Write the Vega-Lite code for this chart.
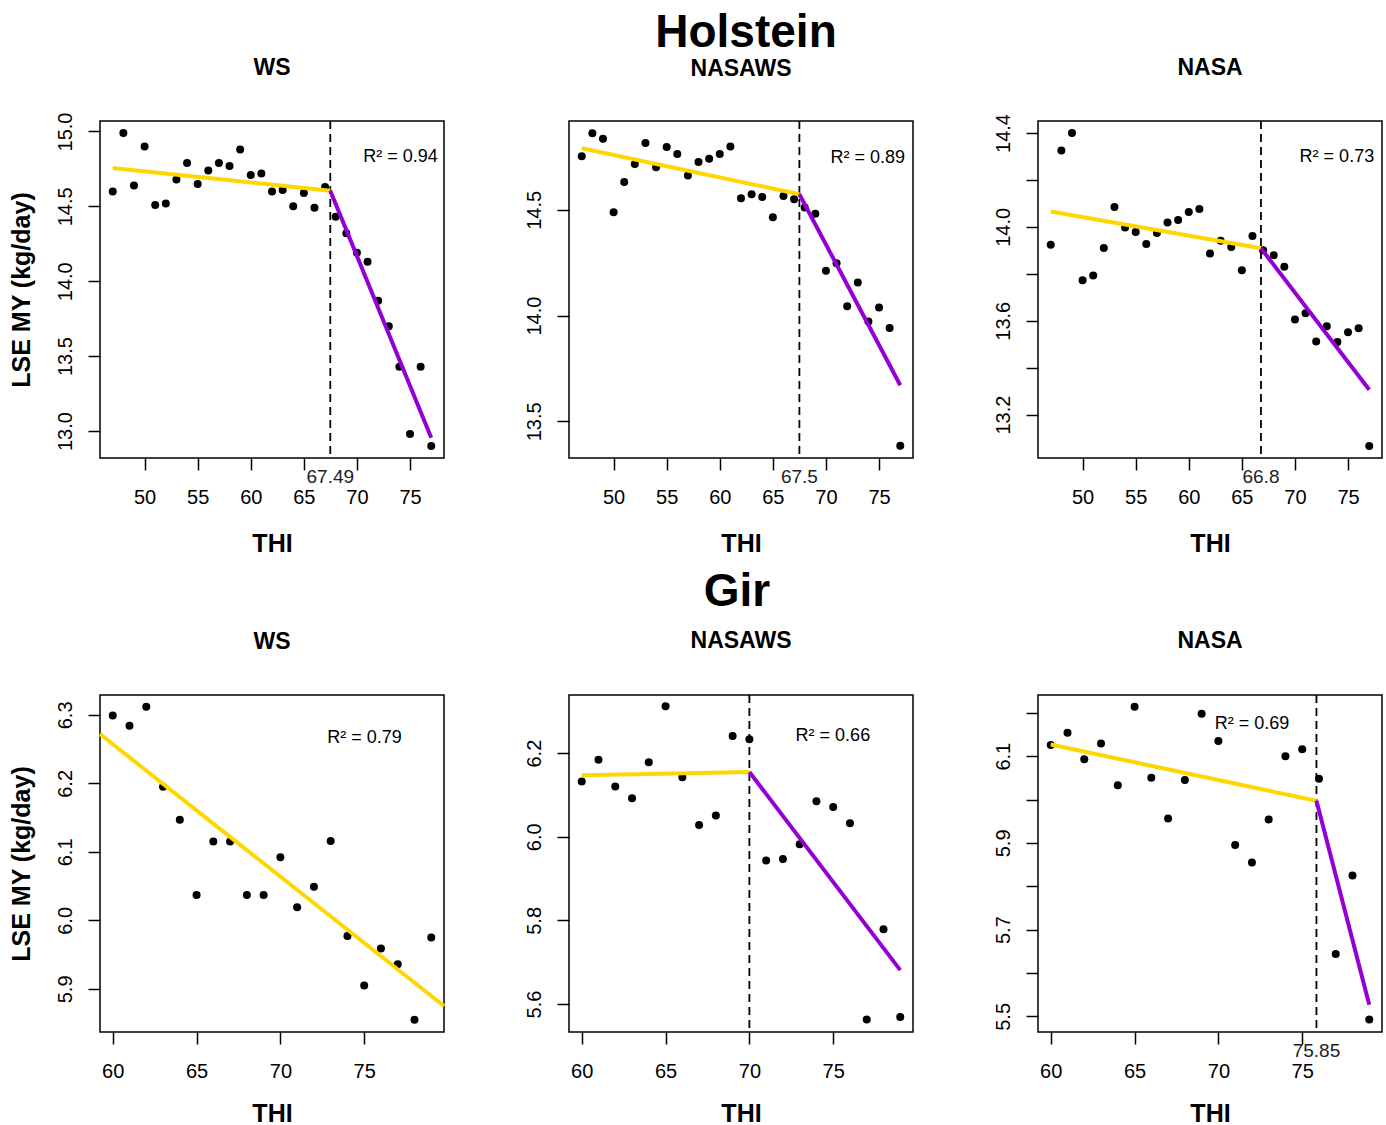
{
  "$schema": "https://vega.github.io/schema/vega-lite/v6.json",
  "background": "white",
  "padding": {"left": 8, "top": 9, "right": 5, "bottom": 5},
  "datasets": {
    "pts": [
      {"panel": "H-WS", "THI": 47, "MY": 14.60}, {"panel": "H-WS", "THI": 48, "MY": 14.99}, {"panel": "H-WS", "THI": 49, "MY": 14.64}, {"panel": "H-WS", "THI": 50, "MY": 14.90}, {"panel": "H-WS", "THI": 51, "MY": 14.51}, {"panel": "H-WS", "THI": 52, "MY": 14.52}, {"panel": "H-WS", "THI": 53, "MY": 14.68}, {"panel": "H-WS", "THI": 54, "MY": 14.79}, {"panel": "H-WS", "THI": 55, "MY": 14.65}, {"panel": "H-WS", "THI": 56, "MY": 14.74}, {"panel": "H-WS", "THI": 57, "MY": 14.79}, {"panel": "H-WS", "THI": 58, "MY": 14.77}, {"panel": "H-WS", "THI": 59, "MY": 14.88}, {"panel": "H-WS", "THI": 60, "MY": 14.71}, {"panel": "H-WS", "THI": 61, "MY": 14.72}, {"panel": "H-WS", "THI": 62, "MY": 14.60}, {"panel": "H-WS", "THI": 63, "MY": 14.61}, {"panel": "H-WS", "THI": 64, "MY": 14.50}, {"panel": "H-WS", "THI": 65, "MY": 14.59}, {"panel": "H-WS", "THI": 66, "MY": 14.49}, {"panel": "H-WS", "THI": 67, "MY": 14.63}, {"panel": "H-WS", "THI": 68, "MY": 14.43}, {"panel": "H-WS", "THI": 69, "MY": 14.32}, {"panel": "H-WS", "THI": 70, "MY": 14.19}, {"panel": "H-WS", "THI": 71, "MY": 14.13}, {"panel": "H-WS", "THI": 72, "MY": 13.87}, {"panel": "H-WS", "THI": 73, "MY": 13.70}, {"panel": "H-WS", "THI": 74, "MY": 13.43}, {"panel": "H-WS", "THI": 75, "MY": 12.98}, {"panel": "H-WS", "THI": 76, "MY": 13.43}, {"panel": "H-WS", "THI": 77, "MY": 12.90},
      {"panel": "H-NASAWS", "THI": 47, "MY": 14.753}, {"panel": "H-NASAWS", "THI": 48, "MY": 14.862}, {"panel": "H-NASAWS", "THI": 49, "MY": 14.836}, {"panel": "H-NASAWS", "THI": 50, "MY": 14.489}, {"panel": "H-NASAWS", "THI": 51, "MY": 14.632}, {"panel": "H-NASAWS", "THI": 52, "MY": 14.717}, {"panel": "H-NASAWS", "THI": 53, "MY": 14.816}, {"panel": "H-NASAWS", "THI": 54, "MY": 14.701}, {"panel": "H-NASAWS", "THI": 55, "MY": 14.797}, {"panel": "H-NASAWS", "THI": 56, "MY": 14.764}, {"panel": "H-NASAWS", "THI": 57, "MY": 14.662}, {"panel": "H-NASAWS", "THI": 58, "MY": 14.726}, {"panel": "H-NASAWS", "THI": 59, "MY": 14.742}, {"panel": "H-NASAWS", "THI": 60, "MY": 14.764}, {"panel": "H-NASAWS", "THI": 61, "MY": 14.800}, {"panel": "H-NASAWS", "THI": 62, "MY": 14.555}, {"panel": "H-NASAWS", "THI": 63, "MY": 14.574}, {"panel": "H-NASAWS", "THI": 64, "MY": 14.561}, {"panel": "H-NASAWS", "THI": 65, "MY": 14.465}, {"panel": "H-NASAWS", "THI": 66, "MY": 14.566}, {"panel": "H-NASAWS", "THI": 67, "MY": 14.550}, {"panel": "H-NASAWS", "THI": 68, "MY": 14.511}, {"panel": "H-NASAWS", "THI": 69, "MY": 14.481}, {"panel": "H-NASAWS", "THI": 70, "MY": 14.212}, {"panel": "H-NASAWS", "THI": 71, "MY": 14.248}, {"panel": "H-NASAWS", "THI": 72, "MY": 14.044}, {"panel": "H-NASAWS", "THI": 73, "MY": 14.157}, {"panel": "H-NASAWS", "THI": 74, "MY": 13.972}, {"panel": "H-NASAWS", "THI": 75, "MY": 14.039}, {"panel": "H-NASAWS", "THI": 76, "MY": 13.942}, {"panel": "H-NASAWS", "THI": 77, "MY": 13.385},
      {"panel": "H-NASA", "THI": 47, "MY": 13.924}, {"panel": "H-NASA", "THI": 48, "MY": 14.325}, {"panel": "H-NASA", "THI": 49, "MY": 14.400}, {"panel": "H-NASA", "THI": 50, "MY": 13.772}, {"panel": "H-NASA", "THI": 51, "MY": 13.793}, {"panel": "H-NASA", "THI": 52, "MY": 13.910}, {"panel": "H-NASA", "THI": 53, "MY": 14.085}, {"panel": "H-NASA", "THI": 54, "MY": 13.997}, {"panel": "H-NASA", "THI": 55, "MY": 13.978}, {"panel": "H-NASA", "THI": 56, "MY": 13.927}, {"panel": "H-NASA", "THI": 57, "MY": 13.974}, {"panel": "H-NASA", "THI": 58, "MY": 14.018}, {"panel": "H-NASA", "THI": 59, "MY": 14.029}, {"panel": "H-NASA", "THI": 60, "MY": 14.063}, {"panel": "H-NASA", "THI": 61, "MY": 14.076}, {"panel": "H-NASA", "THI": 62, "MY": 13.886}, {"panel": "H-NASA", "THI": 63, "MY": 13.941}, {"panel": "H-NASA", "THI": 64, "MY": 13.914}, {"panel": "H-NASA", "THI": 65, "MY": 13.815}, {"panel": "H-NASA", "THI": 66, "MY": 13.961}, {"panel": "H-NASA", "THI": 67, "MY": 13.900}, {"panel": "H-NASA", "THI": 68, "MY": 13.879}, {"panel": "H-NASA", "THI": 69, "MY": 13.830}, {"panel": "H-NASA", "THI": 70, "MY": 13.605}, {"panel": "H-NASA", "THI": 71, "MY": 13.632}, {"panel": "H-NASA", "THI": 72, "MY": 13.511}, {"panel": "H-NASA", "THI": 73, "MY": 13.576}, {"panel": "H-NASA", "THI": 74, "MY": 13.509}, {"panel": "H-NASA", "THI": 75, "MY": 13.551}, {"panel": "H-NASA", "THI": 76, "MY": 13.568}, {"panel": "H-NASA", "THI": 77, "MY": 13.066},
      {"panel": "G-WS", "THI": 60, "MY": 6.299}, {"panel": "G-WS", "THI": 61, "MY": 6.284}, {"panel": "G-WS", "THI": 62, "MY": 6.312}, {"panel": "G-WS", "THI": 63, "MY": 6.195}, {"panel": "G-WS", "THI": 64, "MY": 6.147}, {"panel": "G-WS", "THI": 65, "MY": 6.037}, {"panel": "G-WS", "THI": 66, "MY": 6.115}, {"panel": "G-WS", "THI": 67, "MY": 6.115}, {"panel": "G-WS", "THI": 68, "MY": 6.037}, {"panel": "G-WS", "THI": 69, "MY": 6.037}, {"panel": "G-WS", "THI": 70, "MY": 6.092}, {"panel": "G-WS", "THI": 71, "MY": 6.019}, {"panel": "G-WS", "THI": 72, "MY": 6.049}, {"panel": "G-WS", "THI": 73, "MY": 6.116}, {"panel": "G-WS", "THI": 74, "MY": 5.977}, {"panel": "G-WS", "THI": 75, "MY": 5.905}, {"panel": "G-WS", "THI": 76, "MY": 5.959}, {"panel": "G-WS", "THI": 77, "MY": 5.936}, {"panel": "G-WS", "THI": 78, "MY": 5.855}, {"panel": "G-WS", "THI": 79, "MY": 5.975},
      {"panel": "G-NASAWS", "THI": 60, "MY": 6.132}, {"panel": "G-NASAWS", "THI": 61, "MY": 6.184}, {"panel": "G-NASAWS", "THI": 62, "MY": 6.120}, {"panel": "G-NASAWS", "THI": 63, "MY": 6.092}, {"panel": "G-NASAWS", "THI": 64, "MY": 6.178}, {"panel": "G-NASAWS", "THI": 65, "MY": 6.312}, {"panel": "G-NASAWS", "THI": 66, "MY": 6.142}, {"panel": "G-NASAWS", "THI": 67, "MY": 6.028}, {"panel": "G-NASAWS", "THI": 68, "MY": 6.051}, {"panel": "G-NASAWS", "THI": 69, "MY": 6.241}, {"panel": "G-NASAWS", "THI": 70, "MY": 6.233}, {"panel": "G-NASAWS", "THI": 71, "MY": 5.943}, {"panel": "G-NASAWS", "THI": 72, "MY": 5.947}, {"panel": "G-NASAWS", "THI": 73, "MY": 5.982}, {"panel": "G-NASAWS", "THI": 74, "MY": 6.085}, {"panel": "G-NASAWS", "THI": 75, "MY": 6.071}, {"panel": "G-NASAWS", "THI": 76, "MY": 6.032}, {"panel": "G-NASAWS", "THI": 77, "MY": 5.563}, {"panel": "G-NASAWS", "THI": 78, "MY": 5.779}, {"panel": "G-NASAWS", "THI": 79, "MY": 5.569},
      {"panel": "G-NASA", "THI": 60, "MY": 6.126}, {"panel": "G-NASA", "THI": 61, "MY": 6.154}, {"panel": "G-NASA", "THI": 62, "MY": 6.093}, {"panel": "G-NASA", "THI": 63, "MY": 6.129}, {"panel": "G-NASA", "THI": 64, "MY": 6.033}, {"panel": "G-NASA", "THI": 65, "MY": 6.214}, {"panel": "G-NASA", "THI": 66, "MY": 6.050}, {"panel": "G-NASA", "THI": 67, "MY": 5.956}, {"panel": "G-NASA", "THI": 68, "MY": 6.045}, {"panel": "G-NASA", "THI": 69, "MY": 6.198}, {"panel": "G-NASA", "THI": 70, "MY": 6.135}, {"panel": "G-NASA", "THI": 71, "MY": 5.895}, {"panel": "G-NASA", "THI": 72, "MY": 5.855}, {"panel": "G-NASA", "THI": 73, "MY": 5.954}, {"panel": "G-NASA", "THI": 74, "MY": 6.100}, {"panel": "G-NASA", "THI": 75, "MY": 6.116}, {"panel": "G-NASA", "THI": 76, "MY": 6.048}, {"panel": "G-NASA", "THI": 77, "MY": 5.644}, {"panel": "G-NASA", "THI": 78, "MY": 5.825}, {"panel": "G-NASA", "THI": 79, "MY": 5.493}
    ],
    "fit": [
      {"panel": "H-WS", "segment": "below", "THI": 47, "MY": 14.756}, {"panel": "H-WS", "segment": "below", "THI": 67.49, "MY": 14.604}, {"panel": "H-WS", "segment": "above", "THI": 67.49, "MY": 14.604}, {"panel": "H-WS", "segment": "above", "THI": 77, "MY": 12.955},
      {"panel": "H-NASAWS", "segment": "below", "THI": 47, "MY": 14.791}, {"panel": "H-NASAWS", "segment": "below", "THI": 67.5, "MY": 14.574}, {"panel": "H-NASAWS", "segment": "above", "THI": 67.5, "MY": 14.574}, {"panel": "H-NASAWS", "segment": "above", "THI": 77, "MY": 13.671},
      {"panel": "H-NASA", "segment": "below", "THI": 47, "MY": 14.065}, {"panel": "H-NASA", "segment": "below", "THI": 66.8, "MY": 13.909}, {"panel": "H-NASA", "segment": "above", "THI": 66.8, "MY": 13.909}, {"panel": "H-NASA", "segment": "above", "THI": 77, "MY": 13.306},
      {"panel": "G-WS", "segment": "below", "THI": 59.24, "MY": 6.272}, {"panel": "G-WS", "segment": "below", "THI": 79.76, "MY": 5.875},
      {"panel": "G-NASAWS", "segment": "below", "THI": 60, "MY": 6.147}, {"panel": "G-NASAWS", "segment": "below", "THI": 70, "MY": 6.155}, {"panel": "G-NASAWS", "segment": "above", "THI": 70, "MY": 6.155}, {"panel": "G-NASAWS", "segment": "above", "THI": 79, "MY": 5.681},
      {"panel": "G-NASA", "segment": "below", "THI": 60, "MY": 6.127}, {"panel": "G-NASA", "segment": "below", "THI": 75.85, "MY": 5.997}, {"panel": "G-NASA", "segment": "above", "THI": 75.85, "MY": 5.997}, {"panel": "G-NASA", "segment": "above", "THI": 79, "MY": 5.527}
    ],
    "brk": [
      {"panel": "H-WS", "THI": 67.49, "label": "67.49"},
      {"panel": "H-NASAWS", "THI": 67.5, "label": "67.5"},
      {"panel": "H-NASA", "THI": 66.8, "label": "66.8"},
      {"panel": "G-NASAWS", "THI": 70, "label": ""},
      {"panel": "G-NASA", "THI": 75.85, "label": "75.85"}
    ],
    "r2": [
      {"panel": "H-WS", "THI": 74.1, "MY": 14.83, "label": "R² = 0.94"},
      {"panel": "H-NASAWS", "THI": 73.94, "MY": 14.747, "label": "R² = 0.89"},
      {"panel": "H-NASA", "THI": 73.95, "MY": 14.298, "label": "R² = 0.73"},
      {"panel": "G-WS", "THI": 75.02, "MY": 6.266, "label": "R² = 0.79"},
      {"panel": "G-NASAWS", "THI": 74.98, "MY": 6.242, "label": "R² = 0.66"},
      {"panel": "G-NASA", "THI": 72.0, "MY": 6.175, "label": "R² = 0.69"}
    ]
  },
  "spacing": 12,
  "vconcat": [
    {
      "title": {"text": "Holstein", "fontSize": 46, "offset": -1, "frame": "group", "dx": 646},
      "bounds": "flush",
      "spacing": 125,
      "hconcat": [
        {
          "width": 344, "height": 337,
          "title": {"text": "WS", "offset": 32},
          "encoding": {"x": {"field": "THI", "type": "quantitative", "scale": {"domain": [45.8, 78.2], "nice": false, "zero": false}, "axis": {"values": [50, 55, 60, 65, 70, 75], "title": "THI"}}},
          "layer": [
            {"data": {"name": "pts"}, "transform": [{"filter": "datum.panel === 'H-WS'"}], "mark": {"type": "circle", "size": 64, "color": "black", "opacity": 1},
             "encoding": {"y": {"field": "MY", "type": "quantitative", "scale": {"domain": [12.82, 15.07], "nice": false, "zero": false}, "axis": {"values": [13, 13.5, 14, 14.5, 15], "format": ".1f", "title": "LSE MY (kg/day)"}}}},
            {"data": {"name": "brk"}, "transform": [{"filter": "datum.panel === 'H-WS'"}], "mark": {"type": "rule", "color": "black", "strokeWidth": 1.8, "strokeDash": [8, 5]}, "encoding": {}},
            {"data": {"name": "fit"}, "transform": [{"filter": "datum.panel === 'H-WS'"}], "mark": {"type": "line", "strokeWidth": 4},
             "encoding": {"y": {"field": "MY", "type": "quantitative", "title": "LSE MY (kg/day)"}, "color": {"field": "segment", "type": "nominal", "scale": {"domain": ["below", "above"], "range": ["#FFD700", "#9400D3"]}, "legend": null}}},
            {"data": {"name": "r2"}, "transform": [{"filter": "datum.panel === 'H-WS'"}], "mark": {"type": "text", "fontSize": 18, "color": "black", "align": "center", "baseline": "middle"},
             "encoding": {"y": {"field": "MY", "type": "quantitative", "title": "LSE MY (kg/day)"}, "text": {"field": "label"}}},
            {"data": {"name": "brk"}, "transform": [{"filter": "datum.panel === 'H-WS'"}], "mark": {"type": "text", "fontSize": 19, "color": "#222222", "dy": 19, "align": "center", "baseline": "middle"},
             "encoding": {"y": {"value": "height"}, "text": {"field": "label"}}}
          ]
        },
        {
          "width": 344, "height": 337,
          "title": {"text": "NASAWS", "offset": 39},
          "encoding": {"x": {"field": "THI", "type": "quantitative", "scale": {"domain": [45.8, 78.2], "nice": false, "zero": false}, "axis": {"values": [50, 55, 60, 65, 70, 75], "title": "THI"}}},
          "layer": [
            {"data": {"name": "pts"}, "transform": [{"filter": "datum.panel === 'H-NASAWS'"}], "mark": {"type": "circle", "size": 64, "color": "black", "opacity": 1},
             "encoding": {"y": {"field": "MY", "type": "quantitative", "scale": {"domain": [13.327, 14.92], "nice": false, "zero": false}, "axis": {"values": [13.5, 14, 14.5], "format": ".1f", "title": null}}}},
            {"data": {"name": "brk"}, "transform": [{"filter": "datum.panel === 'H-NASAWS'"}], "mark": {"type": "rule", "color": "black", "strokeWidth": 1.8, "strokeDash": [8, 5]}, "encoding": {}},
            {"data": {"name": "fit"}, "transform": [{"filter": "datum.panel === 'H-NASAWS'"}], "mark": {"type": "line", "strokeWidth": 4},
             "encoding": {"y": {"field": "MY", "type": "quantitative", "title": null}, "color": {"field": "segment", "type": "nominal", "scale": {"domain": ["below", "above"], "range": ["#FFD700", "#9400D3"]}, "legend": null}}},
            {"data": {"name": "r2"}, "transform": [{"filter": "datum.panel === 'H-NASAWS'"}], "mark": {"type": "text", "fontSize": 18, "color": "black", "align": "center", "baseline": "middle"},
             "encoding": {"y": {"field": "MY", "type": "quantitative", "title": null}, "text": {"field": "label"}}},
            {"data": {"name": "brk"}, "transform": [{"filter": "datum.panel === 'H-NASAWS'"}], "mark": {"type": "text", "fontSize": 19, "color": "#222222", "dy": 19, "align": "center", "baseline": "middle"},
             "encoding": {"y": {"value": "height"}, "text": {"field": "label"}}}
          ]
        },
        {
          "width": 344, "height": 337,
          "title": {"text": "NASA", "offset": 34},
          "encoding": {"x": {"field": "THI", "type": "quantitative", "scale": {"domain": [45.8, 78.2], "nice": false, "zero": false}, "axis": {"values": [50, 55, 60, 65, 70, 75], "title": "THI"}}},
          "layer": [
            {"data": {"name": "pts"}, "transform": [{"filter": "datum.panel === 'H-NASA'"}], "mark": {"type": "circle", "size": 64, "color": "black", "opacity": 1},
             "encoding": {"y": {"field": "MY", "type": "quantitative", "scale": {"domain": [13.015, 14.451], "nice": false, "zero": false}, "axis": {"values": [13.2, 13.4, 13.6, 13.8, 14.0, 14.2, 14.4], "labelExpr": "round(datum.value * 10) % 4 == 0 ? format(datum.value, '.1f') : ''", "title": null}}}},
            {"data": {"name": "brk"}, "transform": [{"filter": "datum.panel === 'H-NASA'"}], "mark": {"type": "rule", "color": "black", "strokeWidth": 1.8, "strokeDash": [8, 5]}, "encoding": {}},
            {"data": {"name": "fit"}, "transform": [{"filter": "datum.panel === 'H-NASA'"}], "mark": {"type": "line", "strokeWidth": 4},
             "encoding": {"y": {"field": "MY", "type": "quantitative", "title": null}, "color": {"field": "segment", "type": "nominal", "scale": {"domain": ["below", "above"], "range": ["#FFD700", "#9400D3"]}, "legend": null}}},
            {"data": {"name": "r2"}, "transform": [{"filter": "datum.panel === 'H-NASA'"}], "mark": {"type": "text", "fontSize": 18, "color": "black", "align": "center", "baseline": "middle"},
             "encoding": {"y": {"field": "MY", "type": "quantitative", "title": null}, "text": {"field": "label"}}},
            {"data": {"name": "brk"}, "transform": [{"filter": "datum.panel === 'H-NASA'"}], "mark": {"type": "text", "fontSize": 19, "color": "#222222", "dy": 19, "align": "center", "baseline": "middle"},
             "encoding": {"y": {"value": "height"}, "text": {"field": "label"}}}
          ]
        }
      ]
    },
    {
      "title": {"text": "Gir", "fontSize": 46, "offset": 13, "frame": "group", "dx": 637},
      "bounds": "flush",
      "spacing": 125,
      "hconcat": [
        {
          "width": 344, "height": 337,
          "title": {"text": "WS", "offset": 41},
          "encoding": {"x": {"field": "THI", "type": "quantitative", "scale": {"domain": [59.24, 79.76], "nice": false, "zero": false}, "axis": {"values": [60, 65, 70, 75], "title": "THI", "titlePadding": 20}}},
          "layer": [
            {"data": {"name": "pts"}, "transform": [{"filter": "datum.panel === 'G-WS'"}], "mark": {"type": "circle", "size": 64, "color": "black", "opacity": 1},
             "encoding": {"y": {"field": "MY", "type": "quantitative", "scale": {"domain": [5.837, 6.329], "nice": false, "zero": false}, "axis": {"values": [5.9, 6.0, 6.1, 6.2, 6.3], "format": ".1f", "title": "LSE MY (kg/day)"}}}},
            {"data": {"name": "fit"}, "transform": [{"filter": "datum.panel === 'G-WS'"}], "mark": {"type": "line", "strokeWidth": 4},
             "encoding": {"y": {"field": "MY", "type": "quantitative", "title": "LSE MY (kg/day)"}, "color": {"field": "segment", "type": "nominal", "scale": {"domain": ["below", "above"], "range": ["#FFD700", "#9400D3"]}, "legend": null}}},
            {"data": {"name": "r2"}, "transform": [{"filter": "datum.panel === 'G-WS'"}], "mark": {"type": "text", "fontSize": 18, "color": "black", "align": "center", "baseline": "middle"},
             "encoding": {"y": {"field": "MY", "type": "quantitative", "title": "LSE MY (kg/day)"}, "text": {"field": "label"}}}
          ]
        },
        {
          "width": 344, "height": 337,
          "title": {"text": "NASAWS", "offset": 41},
          "encoding": {"x": {"field": "THI", "type": "quantitative", "scale": {"domain": [59.24, 79.76], "nice": false, "zero": false}, "axis": {"values": [60, 65, 70, 75], "title": "THI", "titlePadding": 20}}},
          "layer": [
            {"data": {"name": "pts"}, "transform": [{"filter": "datum.panel === 'G-NASAWS'"}], "mark": {"type": "circle", "size": 64, "color": "black", "opacity": 1},
             "encoding": {"y": {"field": "MY", "type": "quantitative", "scale": {"domain": [5.533, 6.339], "nice": false, "zero": false}, "axis": {"values": [5.6, 5.8, 6.0, 6.2], "format": ".1f", "title": null}}}},
            {"data": {"name": "brk"}, "transform": [{"filter": "datum.panel === 'G-NASAWS'"}], "mark": {"type": "rule", "color": "black", "strokeWidth": 1.8, "strokeDash": [8, 5]}, "encoding": {}},
            {"data": {"name": "fit"}, "transform": [{"filter": "datum.panel === 'G-NASAWS'"}], "mark": {"type": "line", "strokeWidth": 4},
             "encoding": {"y": {"field": "MY", "type": "quantitative", "title": null}, "color": {"field": "segment", "type": "nominal", "scale": {"domain": ["below", "above"], "range": ["#FFD700", "#9400D3"]}, "legend": null}}},
            {"data": {"name": "r2"}, "transform": [{"filter": "datum.panel === 'G-NASAWS'"}], "mark": {"type": "text", "fontSize": 18, "color": "black", "align": "center", "baseline": "middle"},
             "encoding": {"y": {"field": "MY", "type": "quantitative", "title": null}, "text": {"field": "label"}}}
          ]
        },
        {
          "width": 344, "height": 337,
          "title": {"text": "NASA", "offset": 41},
          "encoding": {"x": {"field": "THI", "type": "quantitative", "scale": {"domain": [59.24, 79.76], "nice": false, "zero": false}, "axis": {"values": [60, 65, 70, 75], "title": "THI", "titlePadding": 20}}},
          "layer": [
            {"data": {"name": "pts"}, "transform": [{"filter": "datum.panel === 'G-NASA'"}], "mark": {"type": "circle", "size": 64, "color": "black", "opacity": 1},
             "encoding": {"y": {"field": "MY", "type": "quantitative", "scale": {"domain": [5.464, 6.241], "nice": false, "zero": false}, "axis": {"values": [5.5, 5.6, 5.7, 5.8, 5.9, 6.0, 6.1, 6.2], "labelExpr": "round(datum.value * 10) % 2 == 1 ? format(datum.value, '.1f') : ''", "title": null}}}},
            {"data": {"name": "brk"}, "transform": [{"filter": "datum.panel === 'G-NASA'"}], "mark": {"type": "rule", "color": "black", "strokeWidth": 1.8, "strokeDash": [8, 5]}, "encoding": {}},
            {"data": {"name": "fit"}, "transform": [{"filter": "datum.panel === 'G-NASA'"}], "mark": {"type": "line", "strokeWidth": 4},
             "encoding": {"y": {"field": "MY", "type": "quantitative", "title": null}, "color": {"field": "segment", "type": "nominal", "scale": {"domain": ["below", "above"], "range": ["#FFD700", "#9400D3"]}, "legend": null}}},
            {"data": {"name": "r2"}, "transform": [{"filter": "datum.panel === 'G-NASA'"}], "mark": {"type": "text", "fontSize": 18, "color": "black", "align": "center", "baseline": "middle"},
             "encoding": {"y": {"field": "MY", "type": "quantitative", "title": null}, "text": {"field": "label"}}},
            {"data": {"name": "brk"}, "transform": [{"filter": "datum.panel === 'G-NASA'"}], "mark": {"type": "text", "fontSize": 19, "color": "#222222", "dy": 19, "align": "center", "baseline": "middle"},
             "encoding": {"y": {"value": "height"}, "text": {"field": "label"}}}
          ]
        }
      ]
    }
  ],
  "config": {
    "font": "Liberation Sans",
    "view": {"stroke": "black", "strokeWidth": 1.5},
    "axis": {"domain": false, "grid": false, "ticks": true, "tickColor": "black", "tickWidth": 1.5, "tickSize": 12, "labelColor": "black", "labelFont": "Liberation Sans", "labelFontSize": 20, "labelPadding": 17, "labelFlush": false, "labelOverlap": false, "labelBound": false, "titleFont": "Liberation Sans", "titleFontSize": 25, "titleFontWeight": "bold", "titleColor": "black"},
    "axisX": {"labelAngle": 0, "labelBaseline": "top", "titleBaseline": "top", "titlePadding": 24},
    "axisY": {"labelAngle": -90, "labelAlign": "center", "labelBaseline": "alphabetic", "titleAngle": -90, "titleBaseline": "alphabetic", "titlePadding": 26},
    "title": {"font": "Liberation Sans", "fontWeight": "bold", "color": "black", "fontSize": 23, "anchor": "middle", "baseline": "alphabetic", "offset": 39}
  }
}
